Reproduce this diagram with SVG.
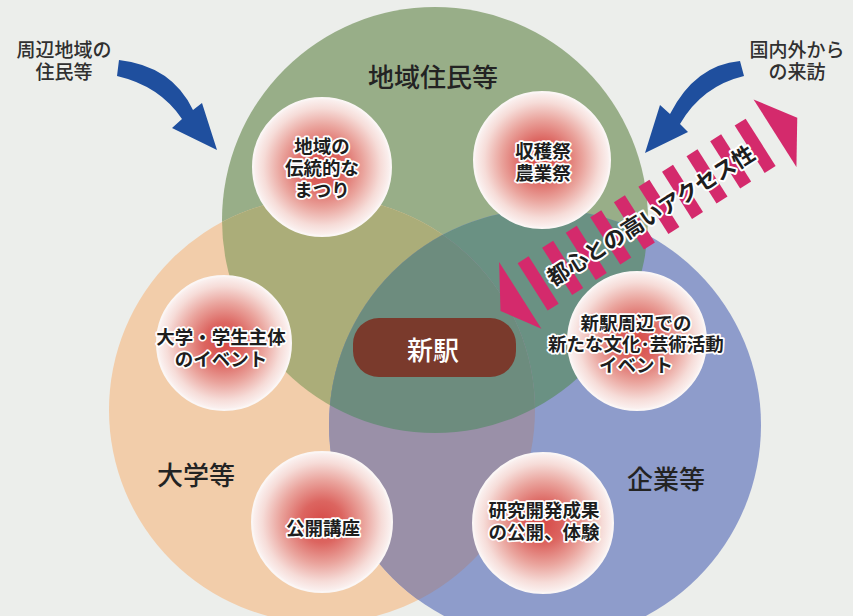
<svg xmlns="http://www.w3.org/2000/svg" width="853" height="616" viewBox="0 0 853 616">
<style>
text{font-family:"Noto Sans CJK JP","Noto Sans CJK SC",sans-serif;}
.big{font-size:26px;font-weight:500;fill:#232323;text-anchor:middle;dominant-baseline:central;}
.side{font-size:19px;font-weight:500;fill:#303030;text-anchor:middle;dominant-baseline:central;}
.sm{font-size:18.5px;font-weight:700;fill:#1e1e1e;stroke:#ffffff;stroke-width:3.5px;stroke-linejoin:round;paint-order:stroke;text-anchor:middle;dominant-baseline:central;}
.acc{font-size:22px;font-weight:700;fill:#1e1e1e;stroke:#ffffff;stroke-width:4px;stroke-linejoin:round;paint-order:stroke;text-anchor:middle;dominant-baseline:central;}
.bubble{fill:url(#rg);stroke:#fbf6f5;stroke-width:2;}
.blue{fill:#1f4f9e;}
.pink{fill:#d42a6c;}
</style>
<defs>
<radialGradient id="rg" cx="0.5" cy="0.5" r="0.5">
<stop offset="0" stop-color="#d64a47"/>
<stop offset="0.3" stop-color="#dc6560"/>
<stop offset="0.6" stop-color="#eaa49d"/>
<stop offset="0.85" stop-color="#f6dcd8"/>
<stop offset="1" stop-color="#fbf3f2"/>
</radialGradient>
<clipPath id="cG"><circle cx="435" cy="220" r="213"/></clipPath>
<clipPath id="cO"><circle cx="322" cy="410" r="213"/></clipPath>
</defs>
<rect width="853" height="616" fill="#eceeeb"/>

<g id="sets">
<circle cx="435" cy="220" r="213" fill="#98ae88"/>
<circle cx="322" cy="410" r="213" fill="#f2cdaa"/>
<circle cx="545" cy="425" r="216" fill="#8e9ccb"/>
<circle cx="322" cy="410" r="213" fill="#abad79" clip-path="url(#cG)"/>
<circle cx="545" cy="425" r="216" fill="#6a9183" clip-path="url(#cG)"/>
<circle cx="545" cy="425" r="216" fill="#9a90a8" clip-path="url(#cO)"/>
<g clip-path="url(#cG)"><circle cx="545" cy="425" r="216" fill="#6d8c7e" clip-path="url(#cO)"/></g>
<text class="big" x="433" y="75">地域住民等</text>
<text class="big" x="196" y="473">大学等</text>
<text class="big" x="666" y="477">企業等</text>
</g>

<g id="station">
<rect x="353" y="318" width="163" height="59" rx="26" fill="#7a3a2c"/>
<text x="433" y="348" font-size="26" font-weight="500" fill="#ffffff" text-anchor="middle" dominant-baseline="central">新駅</text>
</g>

<g id="n1"><circle class="bubble" cx="322" cy="167" r="69"/>
<text class="sm" x="322" y="145">地域の</text><text class="sm" x="322" y="167">伝統的な</text><text class="sm" x="322" y="189">まつり</text></g>
<g id="n2"><circle class="bubble" cx="542" cy="160" r="68"/>
<text class="sm" x="543" y="150">収穫祭</text><text class="sm" x="543" y="172">農業祭</text></g>
<g id="n3"><circle class="bubble" cx="224" cy="343" r="67"/>
<text class="sm" x="221" y="336">大学・学生主体</text><text class="sm" x="221" y="358">のイベント</text></g>
<g id="n4"><circle class="bubble" cx="637" cy="341" r="69"/>
<text class="sm" x="636" y="322">新駅周辺での</text><text class="sm" x="636" y="343">新たな文化･芸術活動</text><text class="sm" x="636" y="364">イベント</text></g>
<g id="n5"><circle class="bubble" cx="322" cy="522" r="70"/>
<text class="sm" x="323" y="527">公開講座</text></g>
<g id="n6"><circle class="bubble" cx="543" cy="523" r="70"/>
<text class="sm" x="544" y="509">研究開発成果</text><text class="sm" x="544" y="531">の公開、体験</text></g>

<g id="connectors">
<path class="blue" d="M119,60 Q172,66 193,110 L202,103 L217,150 L172,128 L182,119 Q160,86 117,76 Z"/>
<path class="blue" d="M740,61 Q695,65 670,114 L660,105 L645,153 L688,132 L680,124 Q702,86 744,76 Z"/>
<g id="access" transform="translate(520,295) rotate(-32.4)">
<polygon class="pink" points="0,-39 0,40 -25,3"/>
<polygon class="pink" points="302,-40 302,40 329,-1"/>
<rect class="pink" x="15" y="-28" width="13" height="56"/>
<rect class="pink" x="44" y="-28" width="13" height="56"/>
<rect class="pink" x="72" y="-28" width="13" height="56"/>
<rect class="pink" x="101" y="-28" width="13" height="56"/>
<rect class="pink" x="129" y="-28" width="13" height="56"/>
<rect class="pink" x="158" y="-28" width="13" height="56"/>
<rect class="pink" x="186" y="-28" width="13" height="56"/>
<rect class="pink" x="215" y="-28" width="13" height="56"/>
<rect class="pink" x="243" y="-28" width="13" height="56"/>
<rect class="pink" x="272" y="-28" width="13" height="56"/>
<text class="acc" x="153" y="1">都心との高いアクセス性</text>
</g>
</g>

<g id="labels">
<text class="side" x="64" y="48">周辺地域の</text>
<text class="side" x="64" y="70">住民等</text>
<text class="side" x="797" y="48">国内外から</text>
<text class="side" x="797" y="70">の来訪</text>
</g>
</svg>
